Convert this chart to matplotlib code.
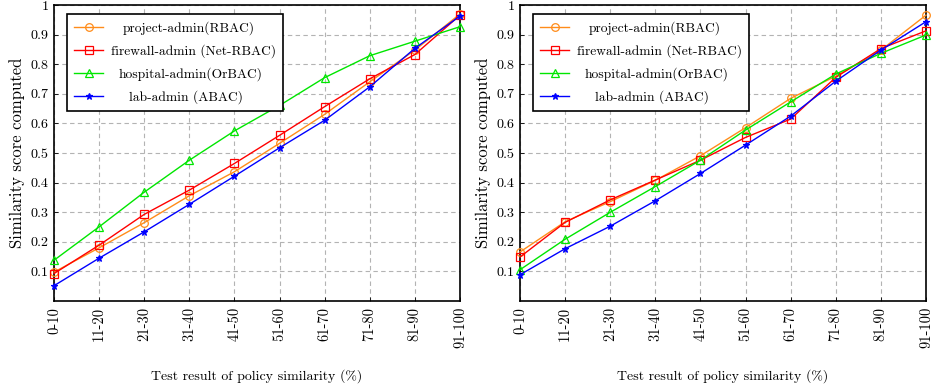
import matplotlib
matplotlib.use("Agg")
import matplotlib.pyplot as plt
import numpy as np

categories = ["0-10", "11-20", "21-30", "31-40", "41-50", "51-60", "61-70", "71-80", "81-90", "91-100"]
series_names = ["project-admin(RBAC)", "firewall-admin (Net-RBAC)", "hospital-admin(OrBAC)", "lab-admin (ABAC)"]

left_project = [0.098, 0.180, 0.265, 0.356, 0.437, 0.533, 0.631, 0.741, 0.848, 0.970]
left_firewall = [0.093, 0.189, 0.293, 0.375, 0.465, 0.560, 0.657, 0.751, 0.833, 0.966]
left_hospital = [0.138, 0.251, 0.368, 0.476, 0.575, 0.661, 0.755, 0.829, 0.878, 0.927]
left_lab = [0.052, 0.145, 0.234, 0.327, 0.422, 0.518, 0.611, 0.724, 0.854, 0.963]

right_project = [0.166, 0.268, 0.336, 0.408, 0.491, 0.586, 0.685, 0.760, 0.848, 0.966]
right_firewall = [0.149, 0.266, 0.342, 0.409, 0.476, 0.553, 0.615, 0.756, 0.853, 0.913]
right_hospital = [0.106, 0.209, 0.300, 0.387, 0.476, 0.578, 0.673, 0.767, 0.837, 0.899]
right_lab = [0.089, 0.177, 0.253, 0.339, 0.431, 0.527, 0.625, 0.743, 0.848, 0.944]

y_ticks = [0.1, 0.2, 0.3, 0.4, 0.5, 0.6, 0.7, 0.8, 0.9, 1.0]
y_ticklabels = ["0.1", "0.2", "0.3", "0.4", "0.5", "0.6", "0.7", "0.8", "0.9", "1"]

plt.rcParams["font.family"] = ["cmr10", "DejaVu Serif"]
plt.rcParams["mathtext.fontset"] = "cm"
plt.rcParams["axes.unicode_minus"] = False

colors = ["#ff8c1a", "#ff0000", "#00e600", "#0000ff"]
markers = ["o", "s", "^", "*"]
fills = ["none", "none", "none", "full"]

fig = plt.figure(figsize=(9.32, 3.91), dpi=100)
ax1 = fig.add_axes([0.058, 0.230, 0.4356, 0.757])
ax2 = fig.add_axes([0.558, 0.230, 0.4356, 0.757])

x = np.arange(len(categories))

def draw(ax, data):
    for i, vals in enumerate(data):
        mfc = "none" if fills[i] == "none" else colors[i]
        ax.plot(x, vals, color=colors[i], marker=markers[i], markersize=5.5 if markers[i] != "*" else 5,
                markerfacecolor=mfc, markeredgecolor=colors[i], markeredgewidth=0.9, linewidth=1.0,
                label=series_names[i], clip_on=False, zorder=3)
    ax.set_xlim(0, len(categories) - 1)
    ax.set_ylim(0, 1)
    ax.set_xticks(x)
    ax.set_xticklabels(categories, rotation=90, fontsize=10.5)
    ax.set_yticks(y_ticks)
    ax.set_yticklabels(y_ticklabels, fontsize=10.2)
    ax.grid(True, linestyle=(0, (4, 3)), color="#b3b3b3", linewidth=0.8)
    ax.tick_params(direction="in", length=3, width=0.6, pad=4)
    for s in ax.spines.values():
        s.set_linewidth(1.2)
    ax.set_xlabel("Test result of policy similarity (%)", fontsize=10, labelpad=15)
    ax.set_ylabel("Similarity score computed", fontsize=12, labelpad=4)
    leg = ax.legend(loc="upper left", bbox_to_anchor=(0.032, 0.97), borderaxespad=0,
                    fancybox=False, framealpha=1,
                    edgecolor="black", fontsize=9.7, handlelength=2.1, borderpad=0.55,
                    labelspacing=0.68, handletextpad=0.6)
    leg.get_frame().set_linewidth(1.2)
    return leg

leg1 = draw(ax1, [left_project, left_firewall, left_hospital, left_lab])
leg2 = draw(ax2, [right_project, right_firewall, right_hospital, right_lab])

fig.canvas.draw()
renderer = fig.canvas.get_renderer()
for leg in (leg1, leg2):
    widths = [t.get_window_extent(renderer).width for t in leg.get_texts()]
    shift = max(widths)
    for t, w in zip(leg.get_texts(), widths):
        t.set_position(((shift - w) / 2 * 72 / fig.dpi, 0))

fig.savefig("out.png", dpi=100)
